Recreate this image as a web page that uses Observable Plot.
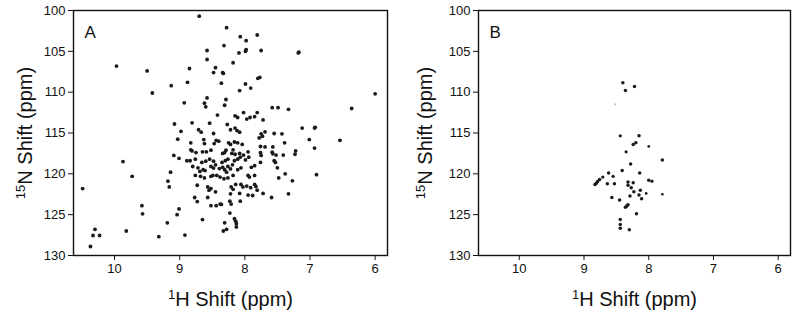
<!DOCTYPE html>
<html>
<head>
<meta charset="utf-8">
<script src="https://cdn.jsdelivr.net/npm/d3@7"></script>
<script src="https://cdn.jsdelivr.net/npm/@observablehq/plot@0.6"></script>
<style>
  html, body { margin: 0; padding: 0; background: #fff; }
  #wrap { display: flex; width: 800px; height: 317px; }
  #wrap svg { display: block; }
  g[aria-label="x-axis label"] text, g[aria-label="y-axis label"] text { font-size: 20px; }
</style>
</head>
<body>
<div id="wrap"><div id="pa"></div><div id="pb"></div></div>
<script>
// ---- data (1H ppm, 15N ppm) ----
const panelLetters = ["A", "B"];
const xTicks = [10, 9, 8, 7, 6];
const yTicks = [100, 105, 110, 115, 120, 125, 130];
const xLabel = "1H Shift (ppm)";
const yLabel = "15N Shift (ppm)";

const peaksA = [
  [8.70,100.7],[8.28,102.1],[8.32,104.3],[8.58,104.9],[8.58,106.0],[8.18,106.4],[9.97,106.8],[9.50,107.4],
  [8.85,107.1],[8.45,107.0],[8.48,107.6],[8.34,107.6],[8.33,107.7],[9.13,109.2],[8.88,108.8],[8.36,108.9],
  [9.42,110.1],[8.58,110.7],[8.29,110.9],[8.07,103.2],[7.81,103.0],[7.98,103.7],[8.09,105.2],[7.99,105.0],
  [7.98,104.8],[7.75,104.9],[7.18,105.2],[7.17,105.1],[7.80,108.3],[7.77,108.2],[7.99,109.0],[8.08,109.8],
  [7.91,109.5],[6.00,110.2],[6.36,112.0],[7.12,114.4],[6.92,114.3],[6.93,114.4],
  [8.93,111.3],[8.62,111.35],[8.60,111.8],[8.31,111.6],[7.58,111.9],[7.49,111.9],[7.33,112.1],[8.42,112.8],
  [8.15,112.9],[8.11,113.1],[8.02,112.5],[7.97,113.3],[7.92,113.1],[7.85,113.0],[7.81,112.5],[7.72,113.4],
  [9.08,113.9],[8.81,113.75],[8.54,113.8],[8.27,113.96],[8.98,114.8],[8.71,114.6],[8.67,114.9],[8.48,115.06],
  [8.22,114.6],[8.15,114.4],[8.12,114.7],[8.08,114.9],[7.75,115.1],[7.69,114.85],[7.78,115.6],[7.73,115.4],
  [7.55,115.06],[7.43,115.1],[9.03,115.76],[8.83,116.2],[8.63,115.8],[8.62,116.3],[8.44,115.9],[8.47,116.3],
  [8.40,116.0],[8.25,116.2],[8.22,116.4],[8.16,116.1],[8.11,116.2],[8.04,116.4],[7.76,116.65],[7.69,116.7],
  [7.57,116.7],[7.39,116.2],[8.83,117.06],[8.81,117.2],[8.75,117.4],[8.65,117.3],[8.59,117.3],[8.52,117.1],
  [8.34,117.5],[8.31,117.4],[8.29,117.1],[8.18,117.06],[8.20,117.5],[8.15,117.6],[8.08,117.5],[8.02,117.7],
  [7.95,117.3],[7.76,117.4],[7.75,117.75],[7.58,117.35],[7.57,117.55],[7.52,117.7],[7.41,117.7],[9.09,117.75],
  [9.01,118.1],[8.89,118.4],[8.84,118.4],[8.76,118.2],[8.66,118.6],[8.60,118.45],[8.54,118.2],[8.48,118.45],
  [8.35,118.6],[8.30,118.4],[8.26,118.2],[8.16,118.4],[8.11,118.2],[8.07,117.96],[7.99,118.3],[7.94,117.96],
  [7.76,118.6],[7.55,118.4],[7.53,118.6],
  [8.80,119.1],[8.72,119.26],[8.64,119.5],[8.61,119.6],[8.69,119.7],[8.52,119.1],[8.48,119.3],[8.45,118.9],
  [8.39,119.35],[8.34,119.2],[8.31,119.5],[8.26,119.1],[8.22,119.4],[8.28,119.8],[8.19,118.9],[8.11,119.5],
  [8.06,119.26],[7.90,119.2],[7.85,119.0],[7.50,119.26],[7.38,120.0],[8.76,120.2],[8.68,120.3],[8.62,120.5],
  [8.52,120.3],[8.49,120.2],[8.43,120.2],[8.38,120.4],[8.32,120.6],[8.26,120.5],[8.18,120.2],[7.95,120.2],
  [7.93,120.4],[7.85,120.2],[7.48,120.5],[8.73,121.4],[8.57,121.6],[8.52,121.8],[8.55,122.0],[8.45,122.2],
  [8.21,121.6],[8.18,121.9],[8.14,121.3],[8.06,121.3],[8.03,121.6],[7.97,121.5],[7.91,121.7],[7.85,121.3],
  [7.83,121.55],[7.81,122.0],[7.72,122.4],[7.95,122.6],[7.88,122.65],[8.08,122.4],[8.22,122.45],[7.59,122.9],
  [7.33,122.45],[8.77,122.9],[8.73,123.4],[8.57,122.9],[8.52,123.9],[8.44,123.9],[8.38,123.7],[8.36,123.75],
  [8.23,123.35],[8.21,123.7],[8.07,123.35],[8.23,124.8],[9.01,124.3],[9.04,125.0],[8.65,125.6],[8.31,126.0],
  [8.16,125.5],[8.14,125.8],[8.13,126.1],
  [9.87,118.5],[9.73,120.3],[10.49,121.8],[9.14,119.8],[9.18,120.9],[9.16,121.6],[9.58,123.9],[9.57,124.9],
  [9.19,126.0],[9.82,127.0],[10.30,126.8],[10.33,127.55],[10.23,127.55],[10.37,128.9],[9.32,127.7],
  [8.92,127.5],[8.33,127.0],[8.28,126.8],[8.13,126.5],
  [7.01,115.8],[6.54,115.9],[6.93,116.85],[7.22,117.2],[7.23,117.6],[6.90,120.1],[7.27,120.85]
];

// [1H, 15N, intensity 0..1]
const peaksB = [
  [8.40,108.85,1],[8.22,109.3,1],[8.36,109.8,1],[8.52,111.5,0.2],[8.44,115.35,0.8],[8.15,115.35,1],
  [8.24,116.4,1],[8.20,116.2,1],[8.00,116.65,0.5],[8.35,117.3,0.8],[7.79,118.3,1],[8.28,118.8,1],
  [8.41,119.6,1],[8.14,119.9,1],[8.62,119.9,1],[8.55,120.3,0.8],[8.71,120.4,0.8],[8.76,120.7,1],
  [8.79,120.95,1],[8.81,121.15,1],[8.83,121.3,1],[8.64,121.2,1],[8.53,121.2,1],[8.32,121.0,1],
  [8.32,121.4,1],[8.24,121.1,1],[8.00,120.8,1],[7.95,120.9,0.8],[8.27,121.7,1],[8.23,122.2,1],
  [8.13,122.0,1],[8.15,122.6,1],[8.04,122.4,0.5],[7.79,122.5,0.4],[8.29,122.7,1],[8.11,123.05,1],
  [8.57,122.9,1],[8.45,123.2,1],[8.36,124.1,1],[8.34,123.95,1],[8.32,123.8,1],[8.19,124.9,1],
  [8.44,125.6,1],[8.44,126.2,1],[8.44,126.65,1],[8.30,126.85,1]
];

const xDomain = [10.63, 5.81];
const yDomain = [100, 130];
const fmt = d => String(d);

function panel(peaks, letter, marginLeft, marginRight, weighted) {
  const data = peaks.map(d => ({h: d[0], n: d[1], w: d.length > 2 ? d[2] : 1}));
  const svg = Plot.plot({
    width: 400,
    height: 317,
    marginLeft, marginRight,
    marginTop: 10,
    marginBottom: 62,
    style: {fontFamily: "'Liberation Sans', Arial, sans-serif", fontSize: "13px", color: "#111", background: "#fff"},
    x: {domain: xDomain},
    y: {domain: yDomain, reverse: true},
    r: {type: "identity"},
    color: {type: "identity"},
    marks: [
      Plot.axisX({ticks: xTicks, tickFormat: fmt, tickSize: 5, tickPadding: 3, label: xLabel, labelAnchor: "center", labelArrow: "none", labelOffset: 50}),
      Plot.axisY({ticks: yTicks, tickFormat: fmt, tickSize: 5, tickPadding: 3, label: yLabel, labelAnchor: "center", labelArrow: "none", labelOffset: marginLeft - 17}),
      Plot.dot(data, {x: "h", y: "n", r: d => weighted ? (d.w < 0.3 ? 1.1 : 1.0 + 0.75 * d.w) : 1.9, fill: d => (weighted && d.w < 0.3) ? "#c4c4c4" : "#1a1a1a", stroke: "none"}),
      Plot.text([letter], {frameAnchor: "top-left", dx: 11, dy: 15, text: d => d, fontSize: 17, fill: "#111"}),
      Plot.frame({stroke: "#111", strokeWidth: 1.4})
    ]
  });
  // superscripts in the axis labels
  const xl = svg.querySelector('g[aria-label="x-axis label"] text');
  if (xl) xl.innerHTML = '<tspan font-size="13" dy="-7">1</tspan><tspan dy="7">H Shift (ppm)</tspan>';
  const yl = svg.querySelector('g[aria-label="y-axis label"] text');
  if (yl) yl.innerHTML = '<tspan font-size="13" dy="-7">15</tspan><tspan dy="7">N Shift (ppm)</tspan>';
  return svg;
}

document.getElementById("pa").appendChild(panel(peaksA, panelLetters[0], 73, 13, false));
document.getElementById("pb").appendChild(panel(peaksB, panelLetters[1], 78, 10, true));
</script>
</body>
</html>
